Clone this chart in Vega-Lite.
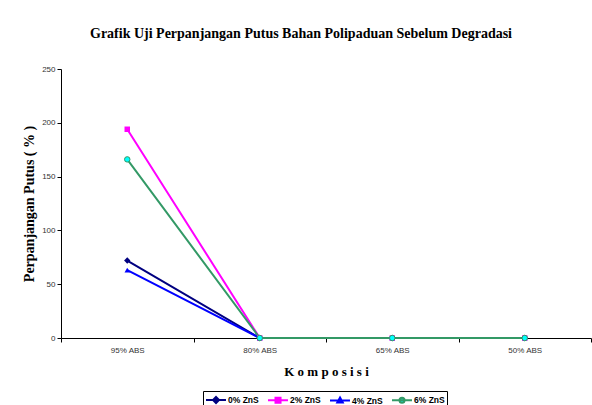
{
  "$schema": "https://vega.github.io/schema/vega-lite/v6.json",
  "width": 530,
  "height": 269,
  "autosize": {"type": "none"},
  "padding": {"left": 61, "top": 69, "right": 1, "bottom": 67},
  "background": "white",
  "title": {
    "text": "Grafik Uji Perpanjangan Putus Bahan Polipaduan Sebelum Degradasi",
    "font": "Liberation Serif",
    "fontSize": 14,
    "fontWeight": "bold",
    "color": "black",
    "dx": -25,
    "offset": 24
  },
  "data": {
    "values": [
      {"series": "0% ZnS", "comp": "95% ABS", "value": 72},
      {"series": "0% ZnS", "comp": "80% ABS", "value": 0},
      {"series": "0% ZnS", "comp": "65% ABS", "value": 0},
      {"series": "0% ZnS", "comp": "50% ABS", "value": 0},
      {"series": "2% ZnS", "comp": "95% ABS", "value": 194},
      {"series": "2% ZnS", "comp": "80% ABS", "value": 0},
      {"series": "2% ZnS", "comp": "65% ABS", "value": 0},
      {"series": "2% ZnS", "comp": "50% ABS", "value": 0},
      {"series": "4% ZnS", "comp": "95% ABS", "value": 63},
      {"series": "4% ZnS", "comp": "80% ABS", "value": 0},
      {"series": "4% ZnS", "comp": "65% ABS", "value": 0},
      {"series": "4% ZnS", "comp": "50% ABS", "value": 0},
      {"series": "6% ZnS", "comp": "95% ABS", "value": 166},
      {"series": "6% ZnS", "comp": "80% ABS", "value": 0},
      {"series": "6% ZnS", "comp": "65% ABS", "value": 0},
      {"series": "6% ZnS", "comp": "50% ABS", "value": 0}
    ]
  },
  "encoding": {
    "x": {
      "field": "comp",
      "type": "nominal",
      "sort": ["95% ABS", "80% ABS", "65% ABS", "50% ABS"],
      "scale": {"type": "band", "paddingInner": 0, "paddingOuter": 0},
      "axis": {
        "title": "K o m p o s i s i",
        "titleFont": "Liberation Serif",
        "titleFontSize": 13,
        "titleFontWeight": "bold",
        "titleColor": "black",
        "titlePadding": 11,
        "labelAngle": 0,
        "labelFont": "Liberation Sans",
        "labelFontSize": 8,
        "labelColor": "#333333",
        "labelPadding": 4,
        "tickBand": "extent",
        "tickSize": 4,
        "tickColor": "black",
        "domainColor": "black",
        "grid": false
      }
    },
    "y": {
      "field": "value",
      "type": "quantitative",
      "scale": {"domain": [0, 250], "nice": false},
      "axis": {
        "title": "Perpanjangan Putus ( % )",
        "titleFont": "Liberation Serif",
        "titleFontSize": 14,
        "titleFontWeight": "bold",
        "titleColor": "black",
        "titlePadding": 5,
        "values": [0, 50, 100, 150, 200, 250],
        "labelFont": "Liberation Sans",
        "labelFontSize": 8,
        "labelColor": "#333333",
        "tickSize": 4,
        "tickColor": "black",
        "domainColor": "black",
        "grid": false
      }
    }
  },
  "layer": [
    {
      "mark": {"type": "line", "strokeWidth": 2},
      "encoding": {
        "color": {
          "field": "series",
          "type": "nominal",
          "scale": {
            "domain": ["0% ZnS", "2% ZnS", "4% ZnS", "6% ZnS"],
            "range": ["#000080", "#FF00FF", "#0000FF", "#339966"]
          },
          "legend": {
            "title": null,
            "orient": "none",
            "legendX": 142,
            "legendY": 322,
            "direction": "horizontal",
            "strokeColor": "black",
            "fillColor": "white",
            "padding": 2,
            "labelFont": "Liberation Sans",
            "labelFontSize": 8.5,
            "labelFontWeight": "bold",
            "labelColor": "black",
            "symbolSize": 144,
            "symbolStrokeWidth": 2,
            "columnPadding": 5,
            "labelOffset": 9,
            "encode": {
              "symbols": {
                "update": {
                  "shape": {"signal": "datum.value === '0% ZnS' ? 'M-1,0H2.33M0.67,-0.5L1.17,0L0.67,0.5L0.17,0Z' : datum.value === '2% ZnS' ? 'M-1,0H2.33M0.25,-0.42H1.09V0.42H0.25Z' : datum.value === '4% ZnS' ? 'M-1,0H2.33M0.67,-0.5L1.12,0.3L0.22,0.3Z' : 'M-1,0H2.33M1.09,0A0.42,0.42,0,1,1,0.25,0A0.42,0.42,0,1,1,1.09,0Z'"},
                  "fill": {"signal": "datum.value === '6% ZnS' ? '#00FFFF' : scale('color', datum.value)"},
                  "stroke": {"signal": "scale('color', datum.value)"},
                  "strokeWidth": {"value": 2}
                }
              }
            }
          }
        }
      }
    },
    {
      "transform": [{"filter": {"field": "series", "equal": "0% ZnS"}}],
      "mark": {"type": "point", "shape": "diamond", "filled": true, "size": 40, "opacity": 1, "fill": "#000080"}
    },
    {
      "transform": [{"filter": {"field": "series", "equal": "2% ZnS"}}],
      "mark": {"type": "point", "shape": "square", "filled": true, "size": 30, "opacity": 1, "fill": "#FF00FF"}
    },
    {
      "transform": [{"filter": {"field": "series", "equal": "4% ZnS"}}],
      "mark": {"type": "point", "shape": "triangle-up", "filled": true, "size": 30, "opacity": 1, "fill": "#0000FF"}
    },
    {
      "transform": [{"filter": {"field": "series", "equal": "6% ZnS"}}],
      "mark": {"type": "point", "shape": "circle", "filled": true, "size": 30, "opacity": 1, "fill": "#00FFFF", "stroke": "#339966", "strokeWidth": 1}
    }
  ],
  "config": {"view": {"stroke": null}}
}
